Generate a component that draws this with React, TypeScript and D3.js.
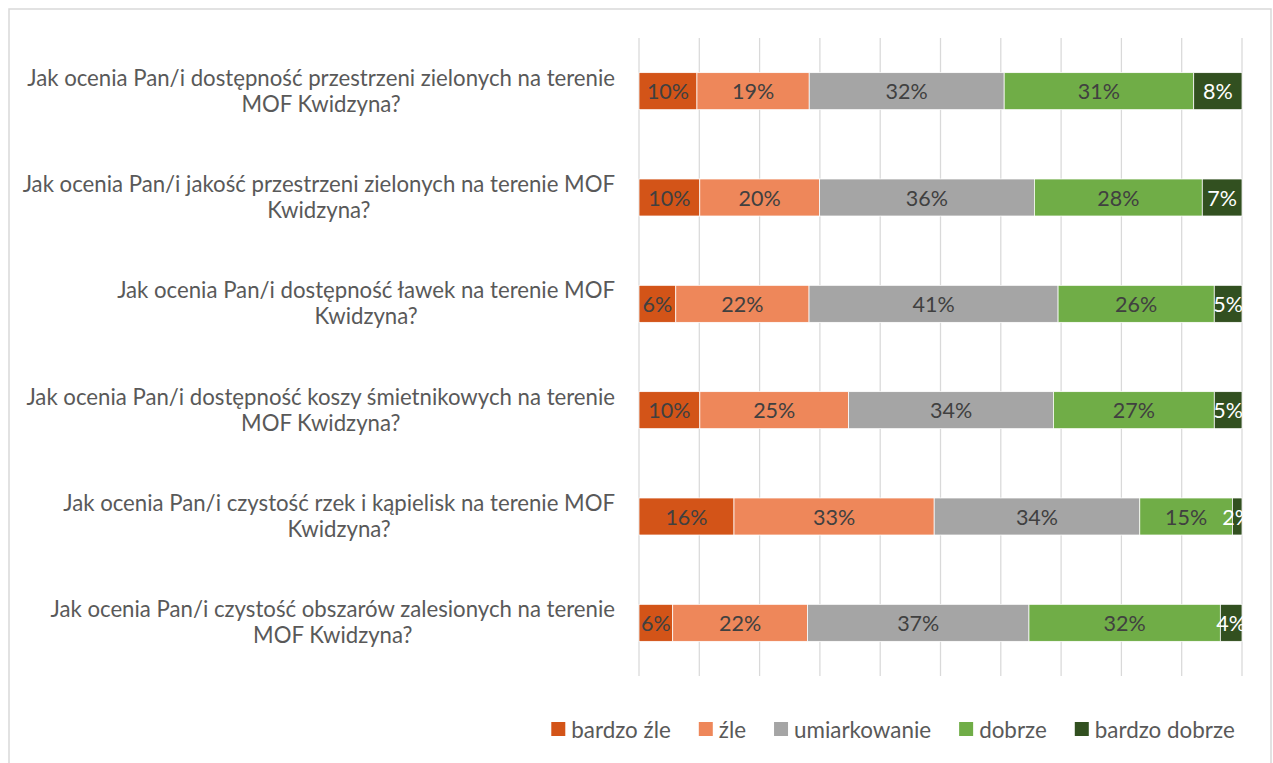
import React, { useEffect, useRef } from 'react';
import * as d3 from 'd3';

// question labels, already split into the two lines used in the chart
const categories = [
  ['Jak ocenia Pan/i dostępność przestrzeni zielonych na terenie', 'MOF Kwidzyna?'],
  ['Jak ocenia Pan/i jakość przestrzeni zielonych na terenie MOF', 'Kwidzyna?'],
  ['Jak ocenia Pan/i dostępność ławek na terenie MOF', 'Kwidzyna?'],
  ['Jak ocenia Pan/i dostępność koszy śmietnikowych na terenie', 'MOF Kwidzyna?'],
  ['Jak ocenia Pan/i czystość rzek i kąpielisk na terenie MOF', 'Kwidzyna?'],
  ['Jak ocenia Pan/i czystość obszarów zalesionych na terenie', 'MOF Kwidzyna?'],
];

const seriesNames = ['bardzo źle', 'źle', 'umiarkowanie', 'dobrze', 'bardzo dobrze'];

// share of answers, percent
const bardzoZle = [9.6, 10.1, 6.1, 10.1, 15.8, 5.6];
const zle = [18.6, 19.9, 22.1, 24.7, 33.3, 22.4];
const umiarkowanie = [32.3, 35.7, 41.3, 34.0, 34.2, 36.8];
const dobrze = [31.4, 27.9, 25.9, 26.7, 15.4, 31.8];
const bardzoDobrze = [8.0, 6.6, 4.6, 4.6, 1.6, 3.6];

const colors = ['#D35418', '#EE875A', '#A5A5A5', '#70AD47', '#325020'];
const labelColors = ['#404040', '#404040', '#404040', '#404040', '#ffffff'];

const FONT = 'Lato, "Open Sans", sans-serif';

const App = () => {
  const ref = useRef<SVGSVGElement>(null);

  useEffect(() => {
    const svg = d3.select(ref.current);
    svg.selectAll('*').remove();

    const left = 639;
    const right = 1242;
    const top = 38;
    const bottom = 676;

    // chart border
    svg.append('rect')
      .attr('x', 9).attr('y', 9)
      .attr('width', 1262).attr('height', 770)
      .attr('fill', '#fff')
      .attr('stroke', '#d9d9d9')
      .attr('stroke-width', 1.5);

    const table = categories.map((c, i) => ({
      i,
      'bardzo źle': bardzoZle[i],
      'źle': zle[i],
      'umiarkowanie': umiarkowanie[i],
      'dobrze': dobrze[i],
      'bardzo dobrze': bardzoDobrze[i],
    }));

    const stack = d3.stack()
      .keys(seriesNames)
      .offset(d3.stackOffsetExpand);
    const series = stack(table as any);

    const x = d3.scaleLinear().domain([0, 1]).range([left, right]);
    const y = d3.scaleBand<number>()
      .domain(categories.map((_, i) => i))
      .range([top, bottom])
      .paddingInner(0.652)
      .paddingOuter(0.326);

    // vertical gridlines
    svg.append('g')
      .selectAll('line')
      .data(x.ticks(10))
      .join('line')
      .attr('x1', (d) => x(d))
      .attr('x2', (d) => x(d))
      .attr('y1', top)
      .attr('y2', bottom)
      .attr('stroke', '#d9d9d9')
      .attr('stroke-width', 1.25);

    // bars
    const groups = svg.append('g')
      .selectAll('g')
      .data(series)
      .join('g')
      .attr('fill', (_, k) => colors[k]);

    groups.selectAll('rect')
      .data((s) => s)
      .join('rect')
      .attr('x', (d) => x(d[0]))
      .attr('width', (d) => x(d[1]) - x(d[0]))
      .attr('y', (d: any) => y(d.data.i)!)
      .attr('height', y.bandwidth())
      .attr('stroke', '#fff')
      .attr('stroke-width', 0.75);

    // data labels, clipped to the plot area
    svg.append('clipPath')
      .attr('id', 'plotClip')
      .append('rect')
      .attr('x', left).attr('y', top)
      .attr('width', right - left + 1).attr('height', bottom - top);

    const labels = svg.append('g')
      .attr('clip-path', 'url(#plotClip)')
      .attr('font-family', FONT)
      .attr('font-size', 21.5)
      .attr('text-anchor', 'middle');

    series.forEach((s, k) => {
      const raw = [bardzoZle, zle, umiarkowanie, dobrze, bardzoDobrze][k];
      labels.append('g')
        .attr('fill', labelColors[k])
        .selectAll('text')
        .data(s)
        .join('text')
        .attr('x', (d) => (x(d[0]) + x(d[1])) / 2)
        .attr('y', (d: any) => y(d.data.i)! + y.bandwidth() / 2)
        .attr('dominant-baseline', 'central')
        .text((d: any) => `${Math.round(raw[d.data.i])}%`);
    });

    // category labels: right-aligned block, second line centred under first
    const catG = svg.append('g')
      .attr('font-family', FONT)
      .attr('font-size', 22.2)
      .attr('fill', '#595959');

    categories.forEach((lines, i) => {
      const cy = y(i)! + y.bandwidth() / 2;
      const t1 = catG.append('text')
        .attr('x', 615)
        .attr('y', cy - 14)
        .attr('text-anchor', 'end')
        .attr('dominant-baseline', 'central')
        .text(lines[0]);
      const w = (t1.node() as SVGTextElement).getComputedTextLength();
      catG.append('text')
        .attr('x', 615 - w / 2)
        .attr('y', cy + 12)
        .attr('text-anchor', 'middle')
        .attr('dominant-baseline', 'central')
        .text(lines[1]);
    });

    // legend
    const legend = svg.append('g')
      .attr('font-family', FONT)
      .attr('font-size', 22.4)
      .attr('fill', '#595959');
    const items = seriesNames.map((name, k) => {
      const g = legend.append('g');
      g.append('rect')
        .attr('width', 14).attr('height', 14)
        .attr('y', 722)
        .attr('fill', colors[k]);
      const t = g.append('text')
        .attr('x', 20)
        .attr('y', 729)
        .attr('dominant-baseline', 'central')
        .text(name);
      const w = (t.node() as SVGTextElement).getComputedTextLength();
      return { g, w: 20 + w };
    });
    const gap = 28;
    const total = d3.sum(items, (d) => d.w) + gap * (items.length - 1);
    let cx = 893 - total / 2;
    items.forEach((it) => {
      it.g.attr('transform', `translate(${cx},0)`);
      cx += it.w + gap;
    });
  }, []);

  return (
    <svg
      ref={ref}
      width={1273}
      height={763}
      style={{ position: 'absolute', left: 0, top: 0, background: '#fff' }}
    />
  );
};

export default App;
